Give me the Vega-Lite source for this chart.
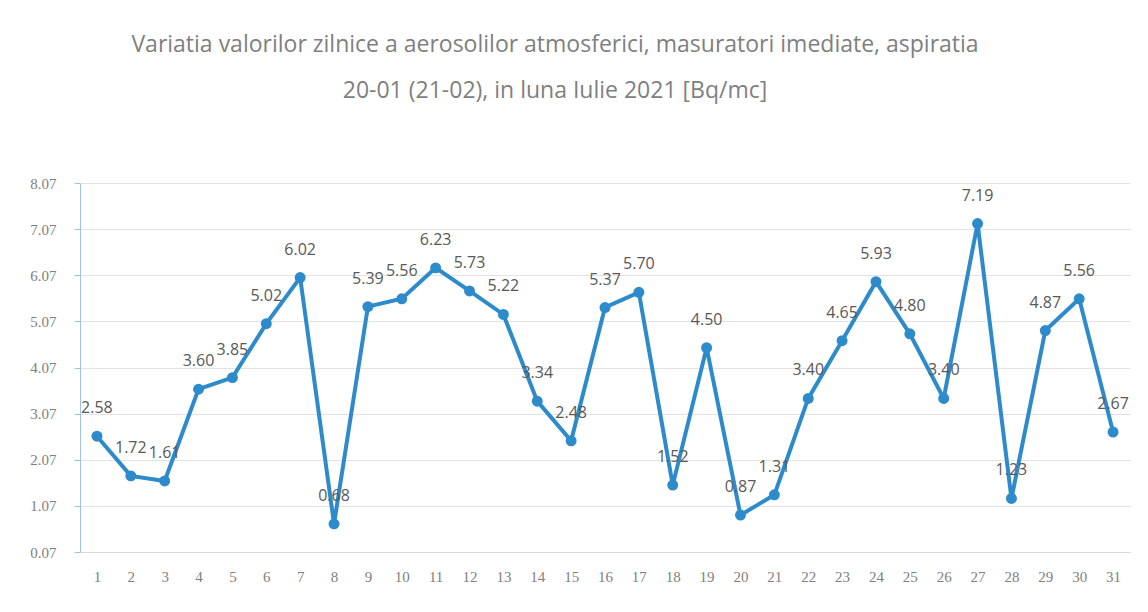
{
  "$schema": "https://vega.github.io/schema/vega-lite/v6.json",
  "width": 1050,
  "height": 369,
  "autosize": {"type": "none"},
  "padding": {"left": 80, "top": 183, "right": 18, "bottom": 60},
  "background": "white",
  "title": {
    "text": ["Variatia valorilor zilnice a aerosolilor atmosferici, masuratori imediate, aspiratia", "20-01 (21-02),  in luna Iulie 2021 [Bq/mc]"],
    "font": "Open Sans",
    "fontSize": 23,
    "fontWeight": "normal",
    "color": "#7f7f7f",
    "lineHeight": 46,
    "anchor": "middle",
    "dx": -50,
    "offset": 73
  },
  "data": {
    "values": [
      {"day": 1, "v": 2.58}, {"day": 2, "v": 1.72}, {"day": 3, "v": 1.61}, {"day": 4, "v": 3.60},
      {"day": 5, "v": 3.85}, {"day": 6, "v": 5.02}, {"day": 7, "v": 6.02}, {"day": 8, "v": 0.68},
      {"day": 9, "v": 5.39}, {"day": 10, "v": 5.56}, {"day": 11, "v": 6.23}, {"day": 12, "v": 5.73},
      {"day": 13, "v": 5.22}, {"day": 14, "v": 3.34}, {"day": 15, "v": 2.48}, {"day": 16, "v": 5.37},
      {"day": 17, "v": 5.70}, {"day": 18, "v": 1.52}, {"day": 19, "v": 4.50}, {"day": 20, "v": 0.87},
      {"day": 21, "v": 1.31}, {"day": 22, "v": 3.40}, {"day": 23, "v": 4.65}, {"day": 24, "v": 5.93},
      {"day": 25, "v": 4.80}, {"day": 26, "v": 3.40}, {"day": 27, "v": 7.19}, {"day": 28, "v": 1.23},
      {"day": 29, "v": 4.87}, {"day": 30, "v": 5.56}, {"day": 31, "v": 2.67}
    ]
  },
  "encoding": {
    "x": {
      "field": "day", "type": "ordinal",
      "axis": {
        "title": null, "labelAngle": 0, "labelFont": "Liberation Serif", "labelFontSize": 15,
        "labelColor": "#7f7f7f", "domainColor": "#d9d9d9", "ticks": false, "labelPadding": 17
      }
    },
    "y": {
      "field": "v", "type": "quantitative",
      "scale": {"domain": [0.07, 8.07], "nice": false, "zero": false},
      "axis": {
        "title": null, "values": [0.07, 1.07, 2.07, 3.07, 4.07, 5.07, 6.07, 7.07, 8.07],
        "format": ".2f", "labelFont": "Liberation Serif", "labelFontSize": 15, "labelColor": "#7f7f7f",
        "domainColor": "#9dc3e6", "tickColor": "#9dc3e6", "tickSize": 6, "labelPadding": 18,
        "gridColor": "#e3e3e3", "grid": true
      }
    }
  },
  "layer": [
    {"mark": {"type": "line", "color": "#2e8bcb", "strokeWidth": 4}},
    {"mark": {"type": "point", "filled": true, "color": "#2e8bcb", "size": 120, "opacity": 1}},
    {
      "mark": {"type": "text", "dy": -28, "font": "Open Sans", "fontSize": 16, "color": "#595959"},
      "encoding": {"text": {"field": "v", "type": "quantitative", "format": ".2f"}}
    }
  ],
  "config": {"view": {"stroke": null}}
}
